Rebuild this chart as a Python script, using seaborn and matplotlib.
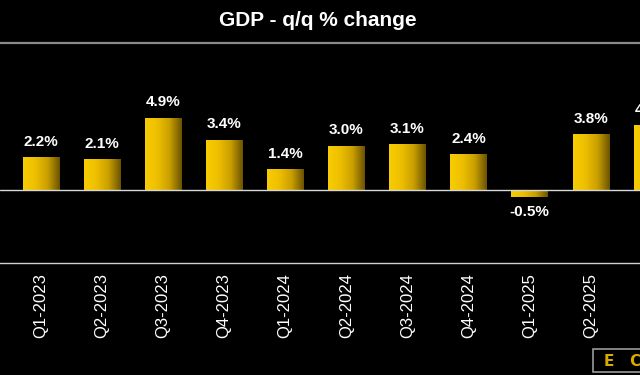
import numpy as np
import pandas as pd
import seaborn as sns
import matplotlib
matplotlib.use("Agg")
from matplotlib import pyplot as plt
from matplotlib.colors import LinearSegmentedColormap
from matplotlib.patches import Rectangle

quarters = ['Q1-2023', 'Q2-2023', 'Q3-2023', 'Q4-2023', 'Q1-2024', 'Q2-2024',
            'Q3-2024', 'Q4-2024', 'Q1-2025', 'Q2-2025', 'Q3-2025']
gdp_qq = [2.2, 2.1, 4.9, 3.4, 1.4, 3.0, 3.1, 2.4, -0.5, 3.8, 4.4]
value_labels = ['%.1f%%' % v for v in gdp_qq]
title = 'GDP - q/q % change'

BG = '#000000'
gold_cmap = LinearSegmentedColormap.from_list(
    'gold', ['#f8cd00', '#eebf00', '#c99f00', '#6b5200'], N=256)

sns.set_style('dark')
plt.rcParams['font.family'] = ['Liberation Sans', 'DejaVu Sans']

df = pd.DataFrame({'quarter': quarters, 'gdp': gdp_qq})

fig = plt.figure(figsize=(6.4, 3.75), dpi=100, facecolor=BG)
ax = fig.add_axes([0, 1 - 263 / 375, 1, 220 / 375])
ax.set_facecolor(BG)

sns.barplot(data=df, x='quarter', y='gdp', ax=ax, width=0.594,
            color='#e8b900', linewidth=0)

# gradient fill, bright on the left, darker on the right
grad = np.linspace(0, 1, 256).reshape(1, -1)
for p in ax.patches:
    x0, y0 = p.get_x(), p.get_y()
    w, h = p.get_width(), p.get_height()
    im = ax.imshow(grad, cmap=gold_cmap, aspect='auto', zorder=2,
                   extent=[x0, x0 + w, min(y0, y0 + h), max(y0, y0 + h)])
    im.set_clip_path(p)
    p.set_facecolor('none')

texts = ax.bar_label(ax.containers[0], labels=value_labels, padding=6,
                     color='white', fontweight='bold', fontsize=11)
for t in texts:
    t.set_annotation_clip(False)

ax.axhline(0, color='#d8d8d8', lw=1.0, zorder=3)
ax.set_xlim(-0.668, 9.807)
ax.set_ylim(-5, 10)
ax.set_yticks([])
ax.set_xlabel('')
ax.set_ylabel('')
ax.grid(False)
ax.tick_params(axis='x', length=0, pad=7, colors='white', labelsize=12)
plt.setp(ax.get_xticklabels(), rotation=90, color='white')

for side in ['left', 'right']:
    ax.spines[side].set_visible(False)
ax.spines['top'].set_color('#8a8a8a')
ax.spines['top'].set_linewidth(1.6)
ax.spines['bottom'].set_color('#cfcfcf')
ax.spines['bottom'].set_linewidth(1.0)

fig.text(0.497, 1 - 21 / 375, title, ha='center', va='center', color='white',
         fontsize=15, fontweight='bold')

# logo box in the corner
fig.patches.append(Rectangle((593 / 640, 1 - 372 / 375), 60 / 640, 23 / 375,
                             transform=fig.transFigure, facecolor=BG,
                             edgecolor='#9a9a9a', lw=1.2))
fig.text(604 / 640, 1 - 361 / 375, 'E   C', ha='left', va='center',
         color='#d9aa00', fontsize=11, fontweight='bold', family='DejaVu Sans')

plt.savefig('out.png', dpi=100, facecolor=BG)
